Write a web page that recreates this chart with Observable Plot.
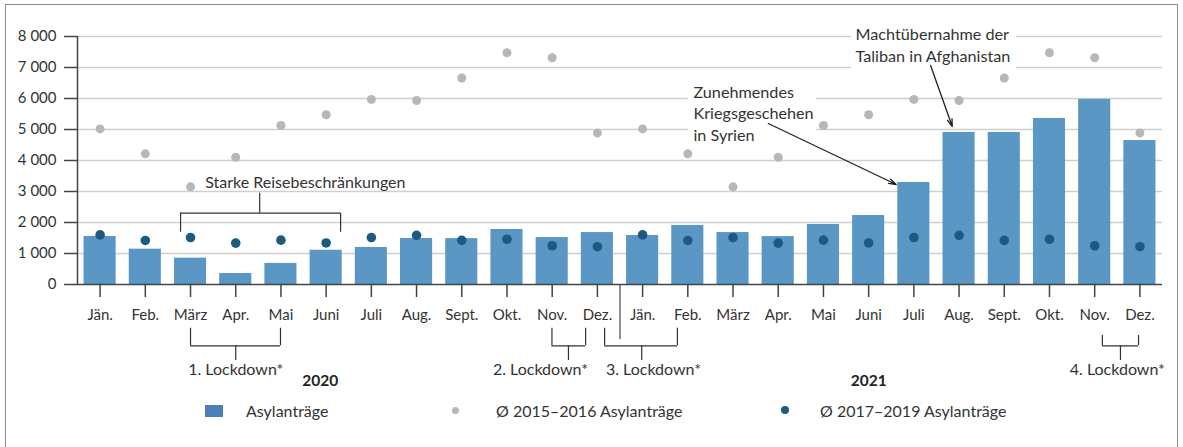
<!DOCTYPE html>
<html><head><meta charset="utf-8">
<script src="https://cdn.jsdelivr.net/npm/d3@7"></script>
<script src="https://cdn.jsdelivr.net/npm/@observablehq/plot@0.6"></script>
<style>
body{margin:0;background:#fff;font-family:Lato,sans-serif;}
#chart{position:absolute;left:0;top:0;}
#frame{position:absolute;left:5px;top:4px;width:1173px;height:470px;border:1.5px solid #8c8c8c;box-sizing:border-box;background:transparent;pointer-events:none;}
#legend{position:absolute;left:0;top:0;width:1183px;font:16px Lato,sans-serif;color:#333;}
.li{position:absolute;white-space:nowrap;line-height:18px;}
</style>
</head><body>
<div id="chart"></div>
<div id="legend"></div>
<div id="frame"></div>
<script>
// ---- data ----
const months = ["Jän.","Feb.","März","Apr.","Mai","Juni","Juli","Aug.","Sept.","Okt.","Nov.","Dez."];
const years = ["2020","2021"];
const asylum = [1550,1140,850,355,680,1105,1195,1485,1480,1775,1515,1675,
                1580,1905,1675,1545,1935,2225,3290,4905,4905,5355,5970,4645];
const avg1516 = [5020,4215,3150,4105,5130,5475,5970,5935,6660,7475,7315,4890];
const avg1719 = [1600,1420,1515,1335,1430,1340,1515,1585,1425,1460,1250,1220];
const yTicks = [0,1000,2000,3000,4000,5000,6000,7000,8000];
const legendLabels = ["Asylanträge","Ø 2015–2016 Asylanträge","Ø 2017–2019 Asylanträge"];

// annotations (in data units: x = month index, y = value)
const reise = {label:"Starke Reisebeschränkungen", x1:1.78, x2:5.32, stem:3.53, yLeg:1687, yBar:2300, yStem:2945, tx:4.54, ty:3290};
const lockdowns = [
  {label:"1. Lockdown*", x1:2.0,   x2:3.99,  stem:3.0,   tx:3.0,   top:-1410},
  {label:"2. Lockdown*", x1:9.995, x2:10.74, stem:10.36, tx:9.74,  top:-1410},
  {label:"3. Lockdown*", x1:11.16, x2:12.77, stem:11.98, tx:12.24, top:-1410},
  {label:"4. Lockdown*", x1:22.17, x2:22.97, stem:22.57, tx:22.5,  top:-1645}
];
const ldBar = -1977, ldStem = -2452, ldText = -2742;
const separator = {x:11.5, y2:-1774};
const yearLabels = [{label:years[0], x:4.87, y:-3130},{label:years[1], x:17.0, y:-3110}];
const notes = [
  {label:"Zunehmendes\nKriegsgeschehen\nin Syrien", x:13.125, y:5558, bx1:13.01, bx2:15.85, by1:4484, by2:6645, ax1:14.78, ay1:5194, ax2:17.61, ay2:3226},
  {label:"Machtübernahme der\nTaliban in Afghanistan", x:16.71, y:7758, bx1:16.62, bx2:20.27, by1:6742, by2:8450, ax1:18.37, ay1:7065, ax2:18.85, ay2:5097}
];

const data = asylum.map((v,i)=>({i, month:months[i%12], year:years[Math.floor(i/12)], asylum:v, a1516:avg1516[i%12], a1719:avg1719[i%12]}));

const BAR="#5a97c4", GRAY="#b7b7bb", DARK="#1c5a80", INK="#333";
const fmt = d => d3.format(",")(d).replace(/,/g," ");

const H = 395;
const plot = Plot.plot({
  width:1183, height:H,
  marginLeft:77, marginRight:21, marginTop:36, marginBottom:H-284,
  x:{type:"linear", domain:[-0.5,23.5], axis:null},
  y:{domain:[0,8000], axis:null},
  style:{fontFamily:"Lato, sans-serif", fontSize:"15px", color:INK, background:"transparent", overflow:"visible"},
  marks:[
    Plot.ruleY(yTicks.filter(d=>d>0), {stroke:"#cfcfcf", strokeWidth:1.5}),
    Plot.rect(notes, {x1:"bx1", x2:"bx2", y1:"by1", y2:"by2", fill:"white"}),
    Plot.rect(data, {x1:d=>d.i-0.355, x2:d=>d.i+0.355, y1:0, y2:"asylum", fill:BAR}),
    Plot.dot(data, {x:"i", y:"a1516", r:4.5, fill:GRAY}),
    Plot.dot(data, {x:"i", y:"a1719", r:4.8, fill:DARK}),
    Plot.ruleX([-0.5], {y1:0, y2:8000, stroke:"#444", strokeWidth:1.5}),
    Plot.ruleY([0], {stroke:"#444", strokeWidth:1.5}),
    Plot.axisY({ticks:yTicks, tickFormat:fmt, tickSize:13, tickPadding:8, label:null, stroke:"#444", strokeWidth:1.5}),
    Plot.axisX({ticks:d3.range(24), tickFormat:i=>months[i%12], tickSize:13, tickPadding:12, label:null, stroke:"#444", strokeWidth:1.5}),
    // separator between years
    Plot.ruleX([separator], {x:"x", y1:0, y2:"y2", stroke:"#444", strokeWidth:1.2}),
    // Reisebeschränkungen bracket
    Plot.ruleY([reise], {x1:"x1", x2:"x2", y:"yBar", stroke:INK, strokeWidth:1.2}),
    Plot.ruleX([reise,reise], {x:(d,j)=>j?d.x2:d.x1, y1:"yLeg", y2:"yBar", stroke:INK, strokeWidth:1.2}),
    Plot.ruleX([reise], {x:"stem", y1:"yBar", y2:"yStem", stroke:INK, strokeWidth:1.2}),
    Plot.text([reise], {x:"tx", y:"ty", text:"label", fill:INK, fontSize:16}),
    // Lockdown brackets
    Plot.ruleY(lockdowns, {x1:"x1", x2:"x2", y:ldBar, stroke:INK, strokeWidth:1.2}),
    Plot.ruleX(lockdowns, {x:"x1", y1:"top", y2:ldBar, stroke:INK, strokeWidth:1.2}),
    Plot.ruleX(lockdowns, {x:"x2", y1:"top", y2:ldBar, stroke:INK, strokeWidth:1.2}),
    Plot.ruleX(lockdowns, {x:"stem", y1:ldBar, y2:ldStem, stroke:INK, strokeWidth:1.2}),
    Plot.text(lockdowns, {x:"tx", y:ldText, text:"label", fill:INK, fontSize:16}),
    Plot.text(yearLabels, {x:"x", y:"y", text:"label", fill:"#222", fontWeight:"bold", fontSize:15.5}),
    // notes with arrows
    Plot.text(notes, {x:"x", y:"y", text:"label", textAnchor:"start", lineHeight:1.33, fill:INK, fontSize:16.2}),
    Plot.arrow(notes, {x1:"ax1", y1:"ay1", x2:"ax2", y2:"ay2", stroke:"#222", strokeWidth:1.3, headLength:9, headAngle:35})
  ]
});
document.getElementById("chart").append(plot);

// legend
const lg = document.getElementById("legend");
lg.innerHTML = `
<div style="position:absolute;left:205px;top:405px;width:18px;height:12px;background:#4b80b6"></div>
<div class="li" style="left:246px;top:402px">${legendLabels[0]}</div>
<div style="position:absolute;left:451.5px;top:406.5px;width:7px;height:7px;border-radius:50%;background:${GRAY}"></div>
<div class="li" style="left:496px;top:402px">${legendLabels[1]}</div>
<div style="position:absolute;left:781px;top:406px;width:8px;height:8px;border-radius:50%;background:${DARK}"></div>
<div class="li" style="left:820px;top:402px">${legendLabels[2]}</div>`;
</script>
</body></html>
